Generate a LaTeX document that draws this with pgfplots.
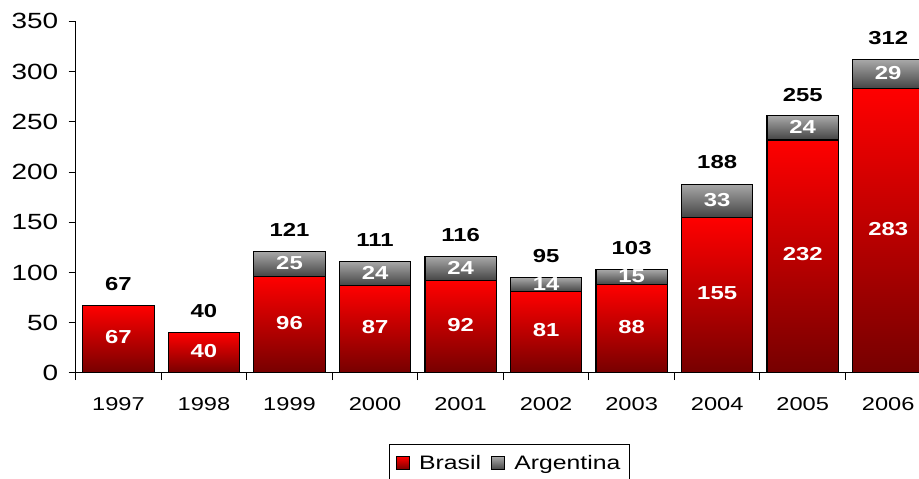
\documentclass[border=0pt]{standalone}
\usepackage{pgfplots}
\pgfplotsset{compat=1.18}
\usepackage{fontspec}
\setmainfont{Liberation Sans}[FakeStretch=1.27]
\definecolor{brtop}{RGB}{255,0,0}
\definecolor{brbot}{RGB}{118,0,0}
\definecolor{artop}{RGB}{168,168,168}
\definecolor{arbot}{RGB}{68,68,68}
\tikzset{lblfont/.style={font=\fontsize{18.8}{22}\selectfont\bfseries}}
\pgfplotsset{
  common/.style={scale only axis, width=843.3pt, height=351.6pt,
    xmin=-0.5, xmax=9.36, ymin=0, ymax=350,
    at={(0pt,0pt)}, anchor=south west, bar width=0.834},
  brstyle/.style={draw=black, line width=1.2pt, top color=brtop, bottom color=brbot},
  arstyle/.style={draw=black, line width=1.2pt, top color=artop, bottom color=arbot},
  sq/.style={legend image code/.code={\path (0pt,0pt); \draw[##1] (3pt,-6.5pt) rectangle (16pt,6.5pt);}},
  inner/.style={bar shift=0pt, nodes near coords, point meta=explicit symbolic,
    visualization depends on={rawy \as \rawyv},
    every node near coord/.append style={lblfont,
      text=white, anchor=center, inner sep=0pt, yshift={2-0.502286*\rawyv}}},
}
\newcommand{\argbar}[3]{%
\begin{axis}[common, ybar stacked, hide axis]
\addplot[draw=none, fill=none, forget plot] coordinates {(#1,#2)};
\addplot[arstyle, forget plot] coordinates {(#1,#3)};
\end{axis}}
\begin{document}
\begin{tikzpicture}
% Argentina segments (one axis each so every bar has its own gradient)
\argbar{2}{96}{25}
\argbar{3}{87}{24}
\argbar{4}{92}{24}
\argbar{5}{81}{14}
\argbar{6}{88}{15}
\argbar{7}{155}{33}
\argbar{8}{232}{24}
\argbar{9}{283}{29}
\begin{axis}[common, ybar,
  axis lines=left, axis line style={-, line width=1pt, black},
  tick style={black, line width=1pt}, tick align=outside, major tick length=7pt,
  ytick={0,50,100,150,200,250,300,350},
  xtick={-0.5,0.5,1.5,2.5,3.5,4.5,5.5,6.5,7.5,8.5},
  xticklabels={,,,,,,,,,},
  extra x ticks={0,1,2,3,4,5,6,7,8,9},
  extra x tick labels={1997,1998,1999,2000,2001,2002,2003,2004,2005,2006},
  extra x tick style={major tick length=0pt, xticklabel style={yshift=-21pt}},
  xticklabel style={font=\fontsize{18.6}{22}\selectfont},
  yticklabel style={font=\fontsize{22}{26}\selectfont, xshift=-7pt},
  /pgf/number format/assume math mode=true,
  legend columns=2,
  legend style={at={(0.514,-0.202)}, anchor=north, draw=black, line width=0.8pt,
    font=\fontsize{19.5}{23}\selectfont, inner xsep=4pt, inner ysep=7pt,
    nodes={inner xsep=5pt, inner ysep=4pt},
    /tikz/every odd column/.append style={column sep=4pt},
    /tikz/every even column/.append style={column sep=2pt}},
]
\addplot[brstyle, sq, inner] coordinates {(0,67)[67]};
\addlegendentry{Brasil}
\addlegendimage{arstyle, sq}
\addlegendentry{Argentina}
\addplot[brstyle, inner, forget plot] coordinates {(1,40)[40]};
\addplot[brstyle, inner, forget plot] coordinates {(2,96)[96]};
\addplot[brstyle, inner, forget plot] coordinates {(3,87)[87]};
\addplot[brstyle, inner, forget plot] coordinates {(4,92)[92]};
\addplot[brstyle, inner, forget plot] coordinates {(5,81)[81]};
\addplot[brstyle, inner, forget plot] coordinates {(6,88)[88]};
\addplot[brstyle, inner, forget plot] coordinates {(7,155)[155]};
\addplot[brstyle, inner, forget plot] coordinates {(8,232)[232]};
\addplot[brstyle, inner, forget plot] coordinates {(9,283)[283]};
% Argentina value labels, centred in the grey segments
\addplot[draw=none, fill=none, bar shift=0pt, forget plot, nodes near coords,
  point meta=explicit symbolic,
  visualization depends on={value \thisrow{arg} \as \argv},
  every node near coord/.append style={lblfont, text=white, anchor=center,
    inner sep=0pt, yshift={1-0.502286*\argv}}]
  table[x=x, y=total, meta=arg] {
x total arg
2 121 25
3 111 24
4 116 24
5 95 14
6 103 15
7 188 33
8 256 24
9 312 29
};
% totals above the bars
\addplot[draw=none, fill=none, bar shift=0pt, forget plot, nodes near coords,
  point meta=explicit symbolic,
  every node near coord/.append style={lblfont,
    text=black, anchor=south, inner sep=0pt, yshift=15pt}] coordinates {
  (0,67)[67] (1,40)[40] (2,121)[121] (3,111)[111] (4,116)[116]
  (5,95)[95] (6,103)[103] (7,188)[188] (8,255)[255] (9,312)[312]};
\end{axis}
\pgfresetboundingbox
\path (-75.7pt,-106pt) rectangle (843.3pt,373pt);
\end{tikzpicture}
\end{document}
